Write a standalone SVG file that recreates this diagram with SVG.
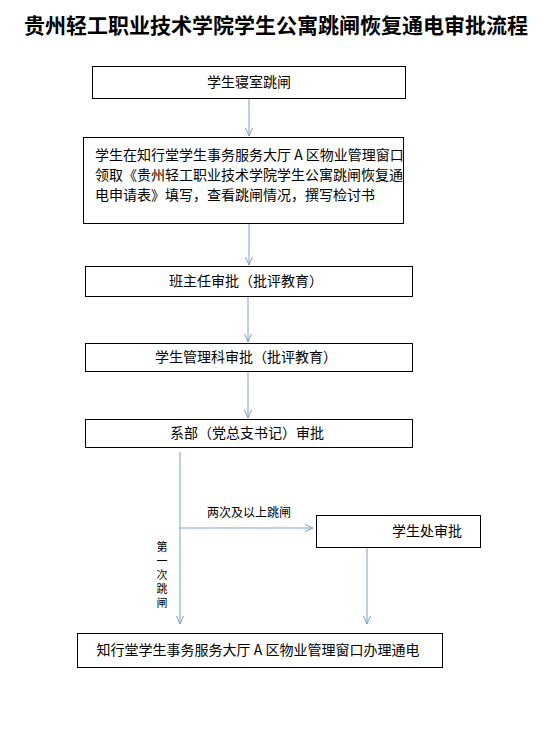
<svg xmlns="http://www.w3.org/2000/svg" width="552" height="747" viewBox="0 0 552 747">
<style>
.box{fill:#fff;stroke:#000;stroke-width:1}
.t{font-family:"Noto Sans CJK SC","Noto Sans",sans-serif;font-size:14px;fill:#000}
.s{font-family:"Noto Sans CJK SC","Noto Sans",sans-serif;font-size:12px;fill:#000}
.v{font-family:"Noto Sans CJK SC","Noto Sans",sans-serif;font-size:11px;fill:#000;writing-mode:vertical-rl;letter-spacing:3px}
.title{font-family:"Noto Sans CJK SC","Noto Sans",sans-serif;font-size:21px;font-weight:bold;fill:#000}
.c{fill:none;stroke:#7BA0CD;stroke-width:1}
</style>
<defs>
<marker id="ah" markerUnits="userSpaceOnUse" markerWidth="12" markerHeight="12" viewBox="-10 -6 12 12" refX="0" refY="0" orient="auto">
<path d="M-8,-3.5 L0,0 L-8,3.5" fill="none" stroke="#7BA0CD" stroke-width="1"/>
</marker>
</defs>
<rect width="552" height="747" fill="#fff"/>
<text class="title" x="276" y="33" text-anchor="middle">贵州轻工职业技术学院学生公寓跳闸恢复通电审批流程</text>
<g id="connectors">
<path class="c" d="M249,98 V136" marker-end="url(#ah)"/>
<path class="c" d="M249,223 V265" marker-end="url(#ah)"/>
<path class="c" d="M248,296 V342" marker-end="url(#ah)"/>
<path class="c" d="M248,371 V418" marker-end="url(#ah)"/>
<path class="c" d="M180,452 V624" marker-end="url(#ah)"/>
<path class="c" d="M180,528 H313" marker-end="url(#ah)"/>
<path class="c" d="M367,547 V624" marker-end="url(#ah)"/>
<text class="s" x="249" y="517" text-anchor="middle">两次及以上跳闸</text>
<text class="v" x="162" y="541">第一次跳闸</text>
</g>
<g id="n1"><rect class="box" x="92.5" y="66.5" width="313" height="32"/><text class="t" x="249" y="87" text-anchor="middle">学生寝室跳闸</text></g>
<g id="n2"><rect class="box" x="83.5" y="137.5" width="320" height="86"/>
<text class="t" x="95" y="160">学生在知行堂学生事务服务大厅 A 区物业管理窗口</text>
<text class="t" x="95" y="180">领取《贵州轻工职业技术学院学生公寓跳闸恢复通</text>
<text class="t" x="95" y="200">电申请表》填写，查看跳闸情况，撰写检讨书</text></g>
<g id="n3"><rect class="box" x="85.5" y="266.5" width="327" height="30"/><text class="t" x="246" y="286" text-anchor="middle">班主任审批（批评教育）</text></g>
<g id="n4"><rect class="box" x="85.5" y="343.5" width="327" height="28"/><text class="t" x="246" y="362" text-anchor="middle">学生管理科审批（批评教育）</text></g>
<g id="n5"><rect class="box" x="85.5" y="419.5" width="327" height="28"/><text class="t" x="247" y="438" text-anchor="middle">系部（党总支书记）审批</text></g>
<g id="n6"><rect class="box" x="316.5" y="515.5" width="164" height="32"/><text class="t" x="427" y="536" text-anchor="middle">学生处审批</text></g>
<g id="n7"><rect class="box" x="77.5" y="633.5" width="365" height="34"/><text class="t" x="258" y="655" text-anchor="middle">知行堂学生事务服务大厅 A 区物业管理窗口办理通电</text></g>
</svg>
